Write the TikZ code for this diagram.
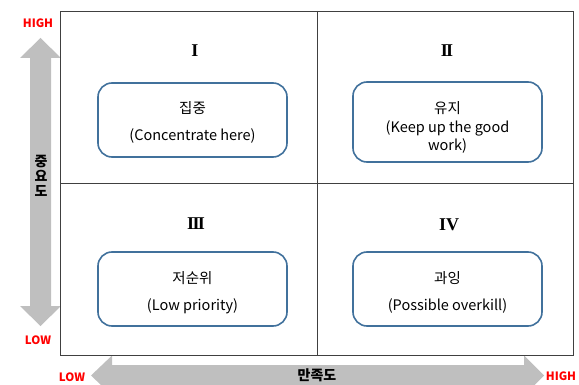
\documentclass[tikz,border=0pt]{standalone}
\usepackage{fontspec}
\setmainfont{Noto Sans CJK KR}
\newfontfamily\numfont{Liberation Serif}
\definecolor{axisgray}{HTML}{BFBFBF}
\definecolor{boxblue}{HTML}{41719C}
\definecolor{gridline}{HTML}{404040}
\definecolor{lvlred}{HTML}{FF0000}
\begin{document}
\begin{tikzpicture}[x=1pt,y=-1pt,
  quad/.style={draw=boxblue,line width=1.6pt,rounded corners=14pt,fill=white},
  body/.style={font=\fontsize{14.5}{18}\selectfont,align=center,inner sep=0pt},
  roman/.style={font=\numfont\bfseries\fontsize{18}{18}\selectfont,inner sep=0pt},
  level/.style={text=lvlred,font=\bfseries\fontsize{11.5}{12}\selectfont,inner sep=0pt},
  axislabel/.style={font=\bfseries\fontsize{14}{15}\selectfont,inner sep=0pt,align=center}]
\useasboundingbox (0,0) rectangle (579,385);
\clip (0,0) rectangle (579,385);

% importance axis (vertical double arrow)
\fill[axisgray] (40.5,38) -- (61,58) -- (51,58) -- (51,306) -- (61,306) -- (40.5,326)
  -- (20,306) -- (30,306) -- (30,58) -- (20,58) -- cycle;
% satisfaction axis (horizontal double arrow)
\fill[axisgray] (91,375.5) -- (112,355.5) -- (112,365) -- (524,365) -- (524,355.5) -- (544,375.5)
  -- (524,395.5) -- (524,386) -- (112,386) -- (112,395.5) -- cycle;

% quadrant grid
\draw[gridline,line width=0.9pt] (60,11) rectangle (573,355.5);
\draw[gridline,line width=0.9pt] (317,11) -- (317,355.5);
\draw[gridline,line width=0.9pt] (60,183) -- (573,183);

% axis labels
\node[level] (yhigh) at (38,23) {HIGH};
\node[level] (ylow) at (38,340) {LOW};
\node[level] (xlow) at (72,377) {LOW};
\node[level] (xhigh) at (561,376) {HIGH};
\node[axislabel] (imp) at (41,176) {중\\요\\도};
\node[axislabel] (sat) at (317,375) {만족도};

% quadrant numerals
\node[roman] (n1) at (195,51) {I};
\node[roman] (n2) at (447,51) {I\kern-1.6ptI};
\node[roman] (n3) at (196,224) {I\kern-1.6ptI\kern-1.6ptI};
\node[roman] (n4) at (449,225) {IV};

% quadrant boxes
\draw[quad] (98,83) rectangle (287,157);
\draw[quad] (353,82) rectangle (542,162);
\draw[quad] (98,252) rectangle (287,326);
\draw[quad] (353,252) rectangle (542,326);

\node[body] (t1a) at (192.5,108) {집중};
\node[body] (t1b) at (192.5,136) {(Concentrate here)};
\node[body] (t2a) at (447.5,108) {유지};
\node[body] (t2b) at (447.5,137) {(Keep up the good\\work)};
\node[body] (t3a) at (192.5,278) {저순위};
\node[body] (t3b) at (192.5,306) {(Low priority)};
\node[body] (t4a) at (447.5,278) {과잉};
\node[body] (t4b) at (447.5,306) {(Possible overkill)};
\end{tikzpicture}
\end{document}
